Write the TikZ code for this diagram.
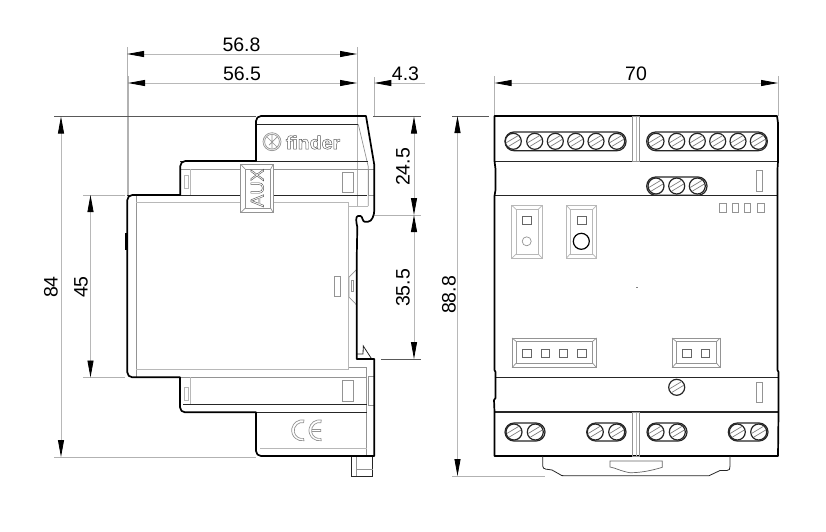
\documentclass[tikz,border=0pt]{standalone}
\usepackage{fontspec}
\setmainfont{Liberation Sans}
\usetikzlibrary{arrows.meta}
\newcommand{\outlinetext}[1]{\special{pdf:code q 1 Tr 0.45 w 0.35 G}#1\special{pdf:code Q}}
\newcommand{\screwat}[2]{%
  \draw[screwrim] (#1,#2) circle[radius=8];
  \draw[screwslot] (#1,#2) ++(-7,1.4) -- ++(12,-7.2) (#1,#2) ++(-5,5.2) -- ++(12,-7.2);
}
\tikzset{
  dimline/.style={draw=black!28,line width=0.8pt},
  extline/.style={draw=black!30,line width=0.7pt},
  darkext/.style={draw=black!65,line width=0.7pt},
  dimboth/.style={dimline,{Triangle[length=17pt,width=6pt,color=black]}-{Triangle[length=17pt,width=6pt,color=black]}},
  dimhead/.style={dimline,-{Triangle[length=17pt,width=6pt,color=black]}},
  dimlabel/.style={font=\fontsize{19.5}{19.5}\selectfont,text=black,inner sep=0pt},
  outline/.style={draw=black,line width=1.7pt,line join=round},
  thin line/.style={draw=black!85,line width=0.8pt},
  gray line/.style={draw=black!42,line width=0.7pt},
  pale line/.style={draw=black!28,line width=0.8pt},
  screwrim/.style={draw=black!85,line width=1.2pt,fill=white},
  screwslot/.style={draw=black!50,line width=0.7pt},
  strip/.style={draw=black!85,line width=1.2pt,rounded corners=9pt},
}
\begin{document}
\begin{tikzpicture}[x=1pt,y=-1pt]
\useasboundingbox[fill=white] (0,0) rectangle (826,531);

% ---------- named reference points
\coordinate (sl) at (127,47);  \coordinate (sl2) at (128,76);
\coordinate (slb) at (127,195); \coordinate (slb2) at (128,195);
\coordinate (sr) at (357,47);  \coordinate (srb) at (357,207);
\coordinate (pr) at (374.3,77); \coordinate (prb) at (374.3,116);

% ---------- extension lines
\draw[extline] (sl) -- (slb);
\draw[extline] (sl2) -- (slb2);
\draw[extline] (sr) -- (srb);
\draw[extline] (pr) -- (prb);
\draw[darkext] (54,116.5) -- (256,116.5);
\draw[darkext] (373,116.5) -- (421,116.5);
\draw[extline] (54,457) -- (256,457);
\draw[extline] (83,195) -- (125,195);
\draw[extline] (83,377.5) -- (125,377.5);
\draw[extline] (374,215) -- (421,215);
\draw[darkext] (381,359) -- (421,359);
\draw[extline] (494.5,76) -- (494.5,116);
\draw[extline] (778,76) -- (778,116);
\draw[darkext] (452,116) -- (489,116);
\draw[extline] (452,476) -- (545,476);

% ---------- side view inner lines
\draw[gray line] (136,195) -- (136,377);
\draw[pale line] (136,202.7) -- (348.7,202.7) -- (348.7,369.3) -- (136,369.3);
\draw[pale line] (348.7,206) -- (368.3,206);
\draw[gray line] (358.3,124.3) -- (368.3,166.7) -- (368.3,206);
\draw[thin line] (256,124.3) -- (358.3,124.3);
\draw[thin line] (180,161) -- (368,161);
\draw[gray line] (180,169) -- (374,169);
\draw[thin line] (127,195) -- (367,195);
\draw[gray line] (348.7,367.3) -- (366.7,367.3) -- (366.7,456);
\draw[gray line] (180,377.3) -- (366.7,377.3);
\draw[thin line] (183,404.3) -- (366.7,404.3);
\draw[thin line] (256,412.3) -- (366.7,412.3);
\draw[pale line] (260,448.3) -- (366.7,448.3);
\draw[gray line] (368.3,169) rectangle (374,195.7);
\draw[gray line] (368.3,376.7) rectangle (374,405);
\draw[gray line] (342.7,172) rectangle (353.3,192.7);
\draw[gray line] (342.7,380.7) rectangle (353.3,401.3);
\draw[gray line] (334,276) rectangle (340.7,296.7);
% small clips
\draw[pale line] (190.7,169) -- (190.7,195) (190.7,377.3) -- (190.7,404);
\draw[pale line] (184.5,175) rectangle (188,188) (184.5,387) rectangle (188,400);
% din rail details
\draw[gray line] (356.7,269.3) -- (350,276) -- (349,277) -- (349,297) -- (356.7,305);
\draw[gray line] (351,280.7) rectangle (353.7,291.7);
\draw[thin line] (356.7,354) -- (363,354) -- (363.3,346) -- (371.7,359);
% bottom tab
\draw[thin line] (351.7,456.7) -- (351.7,476) -- (372.7,476) -- (372.7,456.7);
\draw[gray line] (356.7,456.7) -- (356.7,476) (356.7,469.3) -- (372.7,469.3);

% ---------- side view outline
\draw[outline]
  (127.3,200) arc[start angle=180,end angle=270,radius=5] -- (180.3,195)
  -- (180.3,166) arc[start angle=180,end angle=270,radius=5]
  -- (256,161) -- (256,121) arc[start angle=180,end angle=270,radius=5]
  -- (366,116) -- (374.3,165) -- (374.3,210)
  .. controls (374.3,215) and (372,221.7) .. (368,221.7) -- (364.5,221.7)
  .. controls (362.5,221.7) and (362.5,216) .. (360.5,216) -- (358,216)
  .. controls (355.5,216) and (356,222) .. (357.3,227)
  -- (356.7,260) -- (356.7,359) -- (374.3,359) -- (374.3,456)
  -- (261,456) arc[start angle=90,end angle=180,radius=5]
  -- (256,412.3) -- (185,412.3) arc[start angle=90,end angle=180,radius=5]
  -- (180,377.3) -- (132.3,377.3) arc[start angle=90,end angle=180,radius=5]
  -- cycle;
\draw[line width=1.6pt,draw=black] (126,233) -- (126,250);

% ---------- logo and marks
\draw[gray line] (272,141.7) circle[radius=9] (272,141.7) circle[radius=7.4];
\draw[gray line] (272,134.5) -- (272,149) (267,137) -- (277,147) (277,137) -- (269,145);
\node[inner sep=0pt,anchor=center,xscale=1.06] (finderlogo) at (313,142.5)
  {\fontsize{18.5}{18.5}\selectfont\bfseries\outlinetext{finder}};
% CE
\draw[gray line] (304,420) arc[start angle=-80,end angle=-280,radius=10.5] -- (303.6,438.4)
  arc[start angle=80,end angle=280,radius=8] -- cycle;
\draw[gray line] (321.3,420) arc[start angle=-80,end angle=-280,radius=10.5] -- (320.9,438.4)
  arc[start angle=80,end angle=280,radius=8] -- cycle
  (311.5,429.5) -- (320.7,429.5) -- (320.7,431.5) -- (311.5,431.5);

% ---------- AUX clip
\draw[gray line,fill=white] (240.7,164.3) rectangle (273.3,212.7);
\draw[gray line] (245,169) rectangle (270.7,208.3);
\draw[gray line] (240.7,164.3) -- (245,169) (273.3,164.3) -- (270.7,169)
  (240.7,212.7) -- (245,208.3) (273.3,212.7) -- (270.7,208.3);
\node[rotate=90,inner sep=0pt] (auxlabel) at (257.3,188)
  {\fontsize{18.5}{18.5}\selectfont\outlinetext{AUX}};

% ---------- front view
\draw[thin line,line width=1.1pt] (494.5,161.3) -- (778,161.3);
\draw[thin line,line width=1.1pt] (494.5,195.3) -- (778,195.3);
\draw[thin line,line width=1.1pt] (494.5,377.3) -- (778,377.3);
\draw[thin line,line width=1.1pt] (494.5,412) -- (778,412);
\draw[outline] (494.5,116) -- (777,116) -- (778,123) -- (778,161.3) -- (777.5,169) -- (777.5,370)
  -- (778.5,372) -- (778.5,412) -- (778,456) -- (494.5,456) -- (494.5,412) -- (494,400)
  -- (495.5,398) -- (495.5,372) -- (494.5,370) -- (494.5,196) -- (495.5,190)
  -- (495.5,169) -- (494.5,161) -- cycle;
\draw[gray line] (632.7,116.8) rectangle (639.3,161) (632.7,412.5) rectangle (639.3,456);
\draw[pale line] (636,116.8) -- (636,161) (636,412.5) -- (636,456);

% strips with screws
\draw[strip] (505,132) rectangle (626,150.7);
\draw[strip] (646.7,132) rectangle (767.3,150.7);
\draw[strip] (646.7,177) rectangle (707,195.3);
\draw[strip] (505,423) rectangle (545,441);
\draw[strip] (586.7,423) rectangle (626,441);
\draw[strip] (647,423) rectangle (687,441);
\draw[strip] (728.3,423) rectangle (768,441);
\foreach \x in {513.3,534.7,555.3,575.7,596,616.7,656,676.7,697.3,717.7,738,758.3} {\screwat{\x}{141.3}}
\foreach \x in {656,676.7,697.3} {\screwat{\x}{186}}
\foreach \x in {514,535.3,595.3,616.7,656,677.3,737.3,758.7} {\screwat{\x}{432}}
\screwat{676.7}{387.3}

% slots and indicators
\draw[gray line] (756,170.7) rectangle (762.5,191.7);
\draw[gray line] (756,382) rectangle (762.5,402);
\foreach \a/\b in {719.7/726,732/738.3,744.3/750.7,757.3/764}
  {\draw[gray line] (\a,203.3) rectangle (\b,212.3);}

% push-button frames
\foreach \l/\r/\il/\ir in {511.7/542.3/516/538.3,566.3/596.7/570/592.7}{
  \draw[pale line,line width=0.7pt] (\l,205.3) rectangle (\r,258.3);
  \draw[pale line,line width=0.7pt] (\il,209.3) rectangle (\ir,254);
  \draw[pale line,line width=0.7pt] (\l,205.3) -- (\il,209.3) (\r,205.3) -- (\ir,209.3)
    (\l,258.3) -- (\il,254) (\r,258.3) -- (\ir,254);
}
\draw[gray line,draw=black!60] (522.7,216.3) rectangle (531,224.7);
\draw[gray line] (526.7,241.3) circle[radius=4.5];
\draw[gray line,draw=black!60] (577.7,216.3) rectangle (586,224.7);
\draw[draw=black,line width=1.2pt] (581.3,241.3) circle[radius=8];

% connectors
\foreach \l/\r/\il/\ir in {512/596.7/516/592.7,672/720.3/676/716.7}{
  \draw[gray line] (\l,338) rectangle (\r,367.7);
  \draw[gray line] (\il,341.3) rectangle (\ir,363.3);
  \draw[gray line] (\l,338) -- (\il,341.3) (\r,338) -- (\ir,341.3)
    (\l,367.7) -- (\il,363.3) (\r,367.7) -- (\ir,363.3);
}
\foreach \a/\b in {522.7/531,541/549.3,559.3/567.7,577.7/586,682.7/691.3,701/709.7}
  {\draw[gray line,draw=black!60] (\a,349) rectangle (\b,357.3);}
\fill[black!50] (636,286.5) rectangle (638,287.5);

% DIN latch
\draw[thin line] (542.7,456) -- (542.7,466) .. controls (542.7,470) and (548,469) .. (552,470)
  -- (560,474.5) .. controls (561,475.7) and (562,475.7) .. (564,475.7) -- (709,475.7)
  -- (720,470.5) -- (727,470.5) .. controls (729.5,470.5) and (730,469) .. (730,466) -- (730,456);
\draw[gray line,draw=black!60] (610,461) -- (662.3,461) -- (662.3,467.3)
  .. controls (650,471) and (640,472.7) .. (630,472.7)
  .. controls (620,471) and (616,468) .. (610,467) -- cycle;

% ---------- dimensions
\coordinate (d568a) at (127,54);   \coordinate (d568b) at (357,54);
\coordinate (d565a) at (128,83);   \coordinate (d565b) at (357,83);
\coordinate (d43b) at (374.3,83);  \coordinate (d43c) at (425,83);
\coordinate (d84a) at (61,116.5);  \coordinate (d84b) at (61,457);
\coordinate (d45a) at (90.5,195);  \coordinate (d45b) at (90.5,377.5);
\coordinate (d245a) at (414,116.5);\coordinate (d245b) at (414,215);
\coordinate (d355a) at (414,215);  \coordinate (d355b) at (414,359);
\coordinate (d70a) at (494.5,83);  \coordinate (d70b) at (778,83);
\coordinate (d888a) at (457.5,116);\coordinate (d888b) at (457.5,476);
\draw[dimboth] (d568a) -- (d568b);
\draw[dimboth] (d565a) -- (d565b);
\draw[dimhead] (d43c) -- (d43b);
\draw[dimboth] (d84a) -- (d84b);
\draw[dimboth] (d45a) -- (d45b);
\draw[dimboth] (d245a) -- (d245b);
\draw[dimboth] (d355a) -- (d355b);
\draw[dimboth] (d70a) -- (d70b);
\draw[dimboth] (d888a) -- (d888b);

\node[dimlabel] (t568) at (241.5,44.5) {56.8};
\node[dimlabel] (t565) at (242,74) {56.5};
\node[dimlabel] (t43) at (405.5,74) {4.3};
\node[dimlabel] (t70) at (636,74) {70};
\node[dimlabel,rotate=90] (t84) at (51,287) {84};
\node[dimlabel,rotate=90] (t45) at (81,287) {45};
\node[dimlabel,rotate=90] (t245) at (403,167) {24.5};
\node[dimlabel,rotate=90] (t355) at (403,288) {35.5};
\node[dimlabel,rotate=90] (t888) at (449,295) {88.8};
\end{tikzpicture}
\end{document}
